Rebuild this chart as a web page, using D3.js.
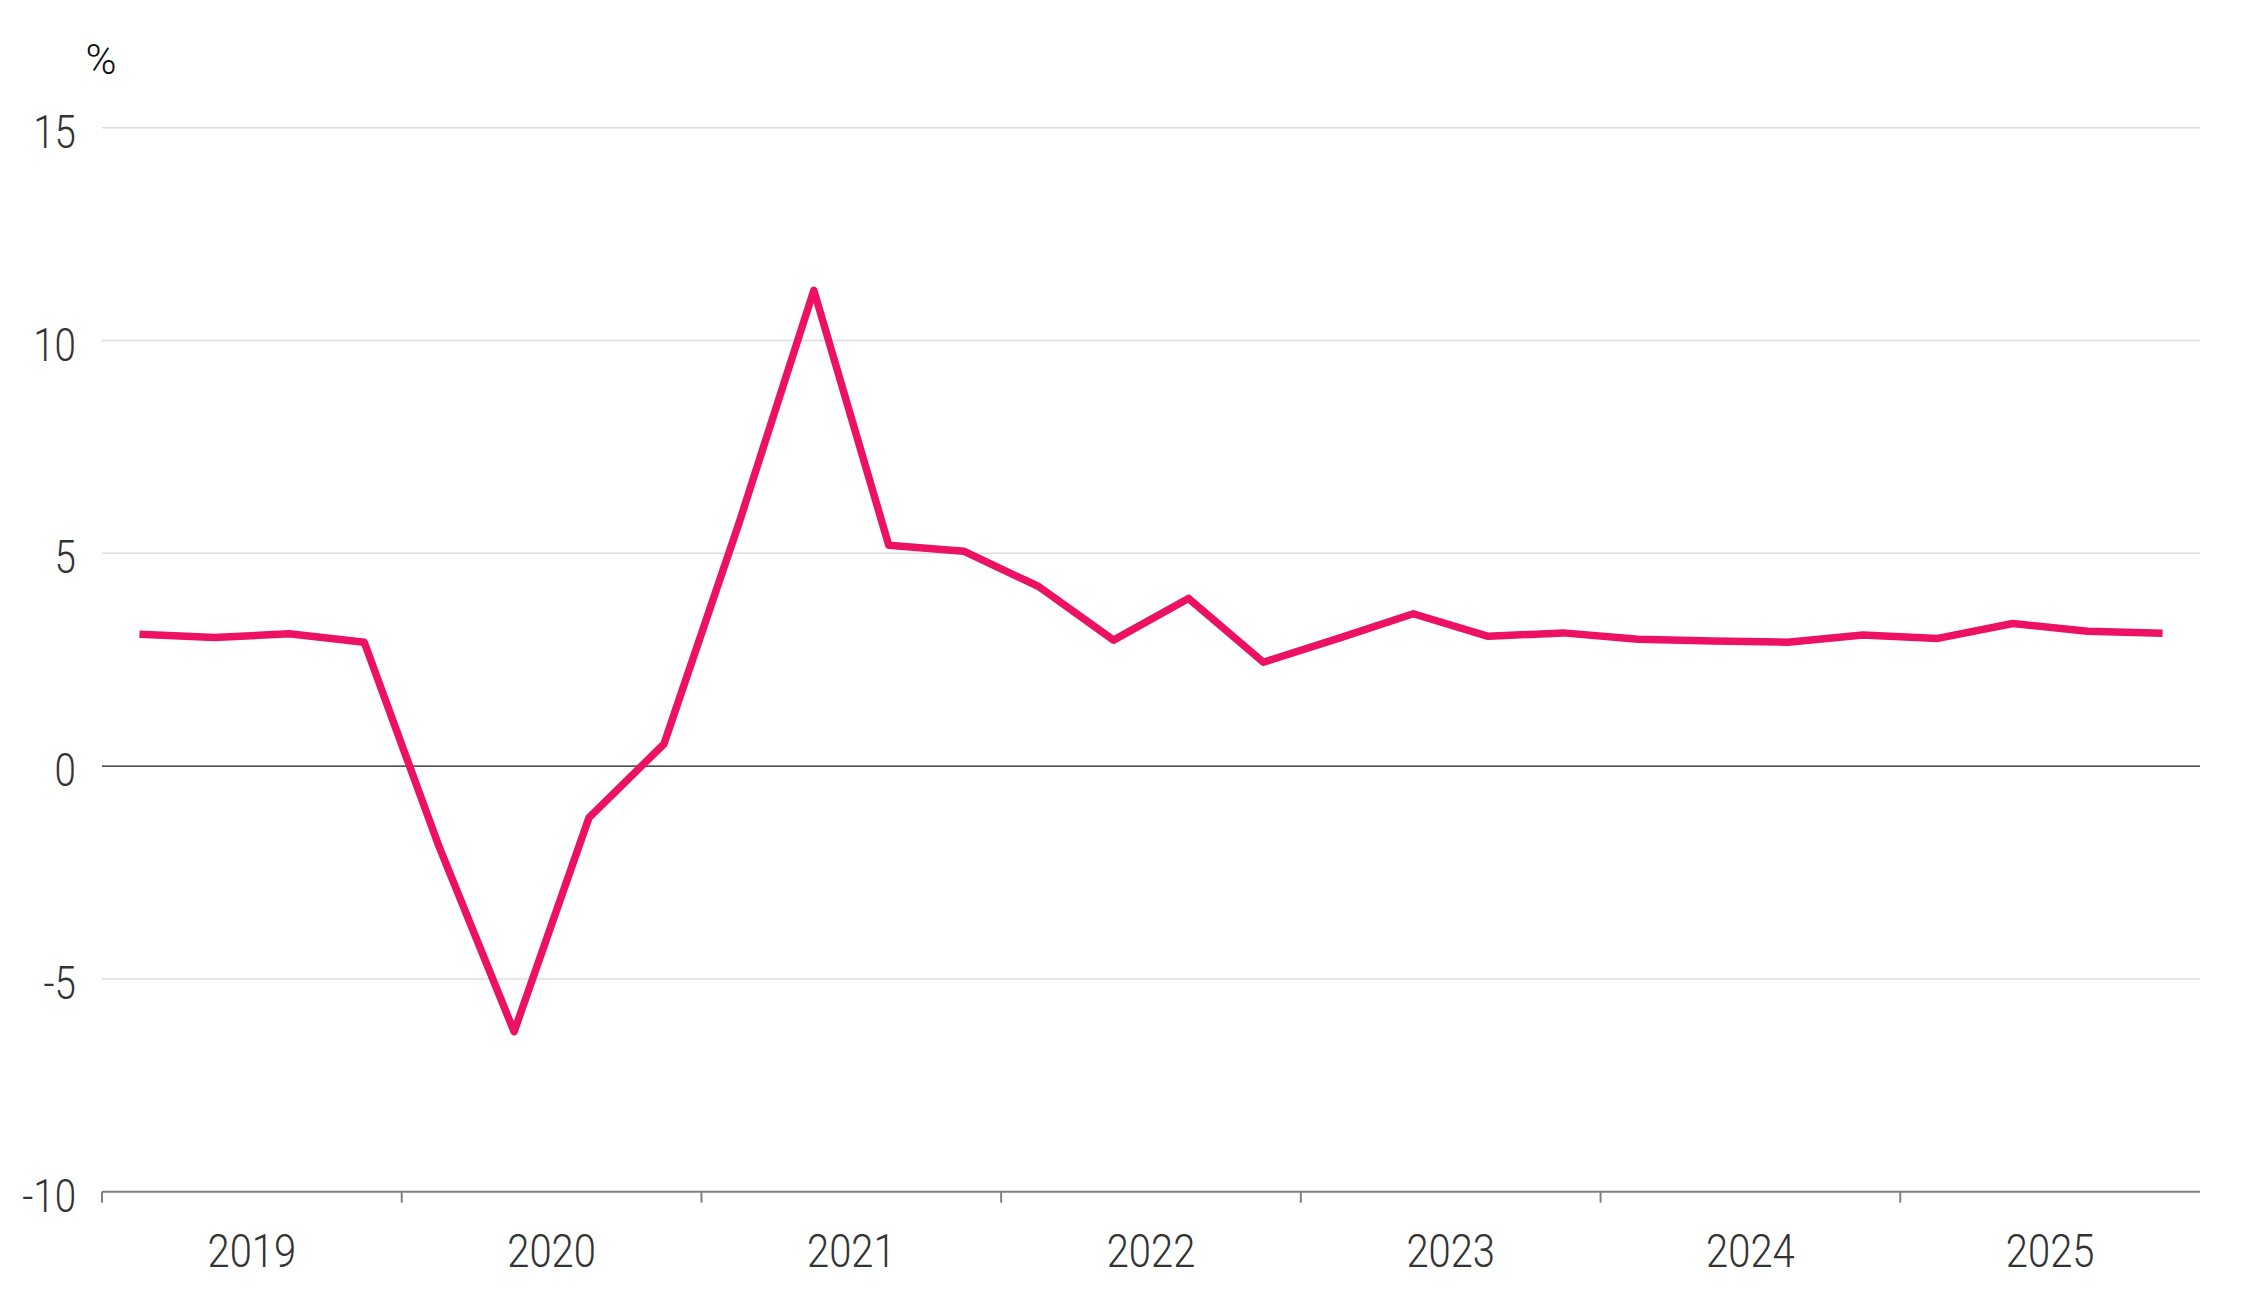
<!DOCTYPE html>
<html>
<head>
<meta charset="utf-8">
<script src="https://cdn.jsdelivr.net/npm/d3@7/dist/d3.min.js"></script>
<style>
  html, body { margin: 0; padding: 0; background: #ffffff; }
  svg { display: block; }
  text { font-family: Roboto, "Noto Sans", sans-serif; font-weight: 300; }
</style>
</head>
<body>
<svg id="chart" width="2247" height="1308"></svg>
<script>
// ---- data ----
const years = ["2019", "2020", "2021", "2022", "2023", "2024", "2025"];
const quarters = ["Q1", "Q2", "Q3", "Q4"];
const periods = years.flatMap(y => quarters.map(q => y + q));
const values = [
  3.10, 3.02, 3.11, 2.91,
  -1.90, -6.24, -1.21, 0.52,
  5.70, 11.18, 5.19, 5.05,
  4.22, 2.96, 3.94, 2.44,
  3.00, 3.58, 3.05, 3.13,
  2.98, 2.94, 2.91, 3.08,
  3.00, 3.35, 3.17, 3.12
];
const yTicks = [-10, -5, 0, 5, 10, 15];
const yTickLabels = ["-10", "-5", "0", "5", "10", "15"];
const unitLabel = "%";

(function () {
  // ---- layout ----
  const plotLeft = 102, plotRight = 2200, plotTop = 127.7, plotBottom = 1191.7;
  const svg = d3.select("#chart");

  const y = d3.scaleLinear().domain([-10, 15]).range([plotBottom, plotTop]);
  const xQ = d3.scalePoint().domain(periods).range([plotLeft, plotRight]).padding(0.5);
  const xYear = d3.scaleBand().domain(years).range([plotLeft, plotRight]).paddingInner(0).paddingOuter(0);

  // gridlines
  svg.append("g").selectAll("line")
    .data(yTicks.filter(v => v !== 0 && v !== -10))
    .join("line")
    .attr("x1", plotLeft).attr("x2", plotRight)
    .attr("y1", d => y(d)).attr("y2", d => y(d))
    .attr("stroke", "#dddddd").attr("stroke-width", 1.5);

  // zero line
  svg.append("line")
    .attr("x1", plotLeft).attr("x2", plotRight)
    .attr("y1", y(0)).attr("y2", y(0))
    .attr("stroke", "#1a1a1a").attr("stroke-width", 1.2);

  // bottom axis line
  svg.append("line")
    .attr("x1", plotLeft).attr("x2", plotRight)
    .attr("y1", y(-10)).attr("y2", y(-10))
    .attr("stroke", "#808080").attr("stroke-width", 2);

  // year boundary ticks
  svg.append("g").selectAll("line")
    .data(years)
    .join("line")
    .attr("x1", d => xYear(d)).attr("x2", d => xYear(d))
    .attr("y1", y(-10)).attr("y2", y(-10) + 11)
    .attr("stroke", "#808080").attr("stroke-width", 2);

  // y tick labels
  svg.append("g").selectAll("text")
    .data(yTicks)
    .join("text")
    .attr("transform", d => `translate(76,${y(d) + 20}) scale(0.82,1)`)
    .attr("text-anchor", "end")
    .attr("font-size", 47)
    .attr("fill", "#333333")
    .text((d, i) => yTickLabels[i]);

  // year labels
  svg.append("g").selectAll("text")
    .data(years)
    .join("text")
    .attr("transform", d => `translate(${xYear(d) + xYear.bandwidth() / 2},1267) scale(0.85,1)`)
    .attr("text-anchor", "middle")
    .attr("font-size", 47)
    .attr("fill", "#333333")
    .text(d => d);

  // unit label
  svg.append("text")
    .attr("x", 101).attr("y", 74)
    .attr("text-anchor", "middle")
    .attr("font-size", 42)
    .attr("fill", "#111111")
    .text(unitLabel);

  // line
  const line = d3.line()
    .x((d, i) => xQ(periods[i]))
    .y(d => y(d));

  svg.append("path")
    .datum(values)
    .attr("d", line)
    .attr("fill", "none")
    .attr("stroke", "#ED1164")
    .attr("stroke-width", 7.5)
    .attr("stroke-linejoin", "round")
    .attr("stroke-linecap", "butt");
})();
</script>
</body>
</html>
